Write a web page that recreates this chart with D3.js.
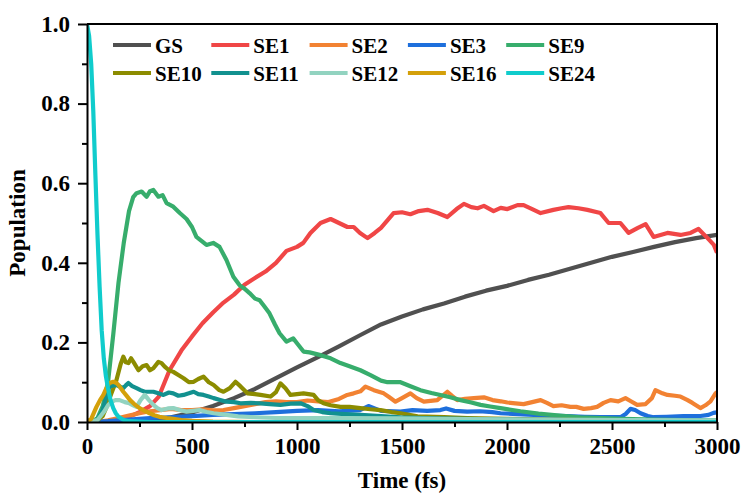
<!DOCTYPE html>
<html>
<head>
<meta charset="utf-8">
<script src="https://cdn.jsdelivr.net/npm/d3@7"></script>
<style>
body{margin:0;background:#fff;}
text{font-family:"Liberation Serif","Times New Roman",serif;font-weight:bold;fill:#000;}
</style>
</head>
<body>
<script>
//series names, colours and values: [time fs, population]
var names = ["GS","SE1","SE2","SE3","SE9","SE10","SE11","SE12","SE16","SE24"];
var colors = ["#505050","#f04646","#f28232","#1e6fdc","#37ad6c","#8c8c00","#12918f","#92d3c0","#d4a00a","#10cccc"];

var GS = [[0,0],[100,0],[200,0.002],[300,0.005],[400,0.012],[500,0.024],[600,0.04],[700,0.06],[800,0.083],[900,0.11],[1000,0.137],[1100,0.163],[1200,0.19],[1300,0.218],[1400,0.245],[1500,0.265],[1600,0.283],[1700,0.298],[1800,0.315],[1900,0.33],[2000,0.342],[2100,0.357],[2200,0.37],[2300,0.385],[2400,0.4],[2500,0.415],[2600,0.427],[2700,0.44],[2800,0.452],[2900,0.462],[3000,0.47]];
var SE1 = [[0,0],[100,0.001],[150,0.004],[200,0.013],[250,0.025],[300,0.04],[341,0.063],[393,0.13],[450,0.18],[500,0.215],[550,0.248],[600,0.275],[650,0.3],[700,0.32],[750,0.345],[800,0.362],[850,0.378],[900,0.4],[950,0.43],[1000,0.44],[1030,0.45],[1064,0.475],[1112,0.5],[1160,0.51],[1200,0.5],[1240,0.49],[1270,0.49],[1300,0.475],[1336,0.462],[1370,0.475],[1400,0.488],[1460,0.525],[1500,0.527],[1540,0.522],[1580,0.53],[1621,0.533],[1670,0.525],[1716,0.515],[1760,0.535],[1795,0.548],[1830,0.54],[1860,0.537],[1890,0.543],[1936,0.53],[1970,0.538],[2002,0.535],[2050,0.545],[2079,0.545],[2120,0.535],[2160,0.525],[2221,0.533],[2260,0.537],[2293,0.54],[2340,0.537],[2383,0.533],[2445,0.525],[2484,0.5],[2540,0.5],[2579,0.475],[2621,0.487],[2660,0.497],[2698,0.465],[2764,0.475],[2826,0.47],[2874,0.475],[2912,0.485],[2955,0.462],[2985,0.445],[3000,0.425]];
var SE2 = [[0,0],[50,0],[100,0.004],[150,0.01],[200,0.016],[250,0.022],[300,0.027],[350,0.03],[400,0.033],[450,0.03],[500,0.03],[550,0.032],[600,0.029],[650,0.03],[700,0.035],[750,0.04],[800,0.045],[850,0.05],[900,0.052],[950,0.05],[1000,0.05],[1050,0.054],[1100,0.052],[1150,0.05],[1200,0.058],[1239,0.068],[1270,0.072],[1302,0.077],[1326,0.089],[1366,0.08],[1413,0.072],[1440,0.062],[1469,0.051],[1500,0.06],[1540,0.072],[1570,0.06],[1604,0.051],[1668,0.055],[1716,0.076],[1740,0.065],[1763,0.055],[1800,0.058],[1842,0.06],[1890,0.062],[1931,0.055],[1970,0.052],[2002,0.049],[2040,0.047],[2079,0.045],[2120,0.05],[2160,0.055],[2190,0.048],[2221,0.04],[2260,0.042],[2302,0.038],[2330,0.038],[2365,0.033],[2400,0.035],[2429,0.038],[2460,0.048],[2493,0.055],[2530,0.052],[2564,0.06],[2590,0.052],[2620,0.043],[2660,0.045],[2690,0.06],[2707,0.08],[2740,0.072],[2764,0.068],[2800,0.066],[2826,0.064],[2860,0.055],[2883,0.048],[2921,0.035],[2945,0.042],[2969,0.052],[2993,0.072],[3000,0.075]];
var SE3 = [[0,0],[100,0.002],[200,0.006],[300,0.01],[400,0.012],[500,0.015],[600,0.018],[700,0.02],[800,0.022],[900,0.025],[1000,0.028],[1100,0.03],[1200,0.027],[1300,0.03],[1340,0.04],[1400,0.028],[1493,0.026],[1550,0.03],[1620,0.028],[1683,0.03],[1710,0.034],[1750,0.028],[1810,0.026],[1870,0.027],[1930,0.025],[1969,0.022],[2050,0.02],[2127,0.018],[2200,0.016],[2286,0.015],[2370,0.013],[2445,0.012],[2540,0.012],[2565,0.02],[2588,0.033],[2610,0.03],[2636,0.022],[2670,0.015],[2698,0.012],[2760,0.013],[2840,0.015],[2921,0.015],[2960,0.018],[2983,0.023],[3000,0.024]];
var SE9 = [[0,0],[30,0.002],[50,0.01],[75,0.04],[100,0.1],[125,0.22],[150,0.35],[175,0.45],[200,0.53],[220,0.565],[236,0.575],[260,0.579],[284,0.566],[300,0.58],[316,0.583],[340,0.566],[360,0.57],[379,0.55],[411,0.541],[442,0.525],[474,0.51],[500,0.49],[521,0.465],[545,0.455],[569,0.445],[601,0.45],[631,0.44],[664,0.407],[697,0.365],[726,0.344],[750,0.335],[774,0.324],[800,0.31],[822,0.306],[845,0.29],[869,0.273],[895,0.245],[917,0.223],[950,0.202],[982,0.21],[1000,0.198],[1031,0.177],[1060,0.175],[1112,0.168],[1160,0.16],[1207,0.148],[1250,0.14],[1302,0.13],[1350,0.118],[1400,0.104],[1431,0.1],[1493,0.1],[1540,0.09],[1588,0.08],[1640,0.073],[1683,0.068],[1730,0.062],[1779,0.055],[1830,0.049],[1874,0.043],[1920,0.039],[1969,0.035],[2064,0.027],[2150,0.021],[2250,0.016],[2350,0.012],[2450,0.01],[2550,0.008],[2700,0.006],[2850,0.005],[3000,0.004]];
var SE10 = [[0,0],[50,0.005],[75,0.015],[93,0.038],[115,0.07],[140,0.105],[160,0.145],[173,0.164],[185,0.15],[197,0.148],[210,0.16],[221,0.151],[245,0.13],[265,0.14],[284,0.143],[300,0.13],[316,0.135],[340,0.151],[355,0.148],[370,0.139],[390,0.13],[411,0.126],[435,0.118],[460,0.11],[485,0.1],[508,0.101],[530,0.108],[555,0.114],[580,0.1],[603,0.093],[630,0.08],[650,0.076],[680,0.085],[707,0.101],[730,0.09],[764,0.072],[800,0.07],[826,0.068],[874,0.064],[900,0.075],[921,0.097],[945,0.085],[969,0.068],[1000,0.07],[1031,0.072],[1079,0.068],[1100,0.055],[1126,0.047],[1160,0.042],[1207,0.038],[1250,0.038],[1302,0.035],[1350,0.032],[1398,0.03],[1450,0.025],[1493,0.022],[1574,0.014],[1700,0.012],[1810,0.01],[2000,0.008],[2200,0.006],[2500,0.004],[2800,0.003],[3000,0.002]];
var SE11 = [[0,0],[50,0.005],[75,0.03],[95,0.07],[107,0.089],[125,0.092],[140,0.093],[160,0.088],[173,0.085],[185,0.092],[197,0.098],[215,0.09],[236,0.085],[255,0.08],[275,0.076],[316,0.076],[340,0.072],[364,0.068],[390,0.074],[411,0.072],[435,0.066],[460,0.068],[485,0.072],[508,0.076],[530,0.07],[555,0.068],[580,0.064],[603,0.06],[630,0.056],[664,0.051],[700,0.05],[731,0.047],[780,0.048],[826,0.047],[870,0.045],[921,0.043],[970,0.046],[1017,0.047],[1050,0.04],[1079,0.03],[1120,0.025],[1160,0.022],[1230,0.02],[1302,0.018],[1400,0.015],[1493,0.012],[1600,0.01],[1800,0.008],[2000,0.006],[2300,0.005],[2600,0.004],[3000,0.003]];
var SE12 = [[0,0],[50,0.005],[80,0.025],[100,0.042],[117,0.051],[135,0.055],[155,0.055],[180,0.05],[202,0.047],[220,0.042],[236,0.038],[255,0.055],[275,0.068],[295,0.055],[316,0.043],[335,0.035],[355,0.03],[385,0.034],[411,0.035],[440,0.03],[474,0.026],[505,0.028],[536,0.03],[570,0.025],[603,0.022],[664,0.018],[720,0.014],[800,0.012],[900,0.01],[1000,0.01],[1200,0.01],[1500,0.009],[1800,0.007],[2200,0.006],[2600,0.005],[3000,0.004]];
var SE16 = [[0,0],[20,0.008],[45,0.038],[62,0.055],[78,0.068],[95,0.088],[107,0.098],[125,0.101],[140,0.098],[150,0.093],[173,0.076],[190,0.065],[205,0.055],[225,0.045],[250,0.035],[275,0.028],[298,0.022],[320,0.017],[345,0.013],[380,0.01],[411,0.008],[450,0.005],[500,0.003],[600,0.001],[800,0],[3000,0]];
var SE24 = [[0,1.0],[10,0.97],[20,0.9],[30,0.78],[40,0.62],[50,0.47],[60,0.34],[70,0.23],[80,0.16],[90,0.115],[100,0.085],[112,0.055],[125,0.035],[137,0.022],[150,0.013],[175,0.005],[200,0.002],[300,0],[3000,0]];

var seriesData = [GS,SE1,SE2,SE3,SE9,SE10,SE11,SE12,SE16,SE24];

var xTicks = [0,500,1000,1500,2000,2500,3000];
var yTicks = [0,0.2,0.4,0.6,0.8,1.0];

//layout
var width = 741, height = 497;
var margin = {left:87, top:24, right:24, bottom:75};
var plotW = width - margin.left - margin.right;
var plotH = height - margin.top - margin.bottom;

var svg = d3.select("body").append("svg")
    .attr("width", width)
    .attr("height", height);

var x = d3.scaleLinear().domain([0,3000]).range([margin.left, margin.left+plotW]);
var y = d3.scaleLinear().domain([0,1]).range([margin.top+plotH, margin.top]);

svg.append("clipPath").attr("id","clip")
  .append("rect")
    .attr("x", margin.left).attr("y", margin.top)
    .attr("width", plotW).attr("height", plotH);

var line = d3.line()
    .x(function(d){return x(d[0])})
    .y(function(d){return y(d[1])});

//lines, drawn in legend order
svg.append("g").attr("clip-path","url(#clip)")
  .selectAll("path")
    .data(seriesData)
    .enter()
    .append("path")
    .attr("d", line)
    .attr("fill","none")
    .attr("stroke", function(d,i){return colors[i]})
    .attr("stroke-width", 4.2)
    .attr("stroke-linejoin","round");

//minor ticks
svg.append("g")
    .attr("transform","translate(0,"+(margin.top+plotH)+")")
    .call(d3.axisBottom(x).tickValues(d3.range(250,3000,500)).tickSize(5).tickFormat(""))
    .call(function(g){g.select(".domain").remove()});
svg.append("g")
    .attr("transform","translate("+margin.left+",0)")
    .call(d3.axisLeft(y).tickValues([0.1,0.3,0.5,0.7,0.9]).tickSize(5).tickFormat(""))
    .call(function(g){g.select(".domain").remove()});

//major axes
var xAxis = svg.append("g")
    .attr("transform","translate(0,"+(margin.top+plotH)+")")
    .call(d3.axisBottom(x).tickValues(xTicks).tickSize(8).tickSizeOuter(0).tickPadding(8).tickFormat(d3.format("d")));
var yAxis = svg.append("g")
    .attr("transform","translate("+margin.left+",0)")
    .call(d3.axisLeft(y).tickValues(yTicks).tickSize(9).tickSizeOuter(0).tickPadding(8).tickFormat(d3.format(".1f")));

svg.selectAll(".tick line").attr("stroke","#000").attr("stroke-width",2);
svg.selectAll(".domain").attr("stroke","#000").attr("stroke-width",2);
svg.selectAll(".tick text")
    .style("font-family","'Liberation Serif','Times New Roman',serif")
    .style("font-weight","bold")
    .style("font-size","23px")
    .attr("fill","#000");

//frame top and right
svg.append("path")
    .attr("d","M"+margin.left+","+margin.top+"H"+(margin.left+plotW)+"V"+(margin.top+plotH))
    .attr("fill","none")
    .attr("stroke","#000")
    .attr("stroke-width",2);

//axis titles
svg.append("text")
    .attr("x", margin.left+plotW/2)
    .attr("y", 488)
    .attr("text-anchor","middle")
    .style("font-size","23px")
    .text("Time (fs)");

svg.append("text")
    .attr("transform","translate(25,"+(margin.top+plotH/2)+") rotate(-90)")
    .attr("text-anchor","middle")
    .style("font-size","23px")
    .text("Population");

//legend, 2 rows of 5
var legend = svg.append("g").selectAll("g")
    .data(names)
    .enter()
    .append("g")
    .attr("transform",function(d,i){
        return "translate("+(113+(i%5)*98.3)+","+(45+Math.floor(i/5)*28)+")";
    });

legend.append("line")
    .attr("x1",0).attr("x2",38)
    .attr("y1",0).attr("y2",0)
    .attr("stroke",function(d,i){return colors[i]})
    .attr("stroke-width",4);

legend.append("text")
    .attr("x",42)
    .attr("y",7.5)
    .style("font-size","21px")
    .text(function(d){return d});
</script>
</body>
</html>
